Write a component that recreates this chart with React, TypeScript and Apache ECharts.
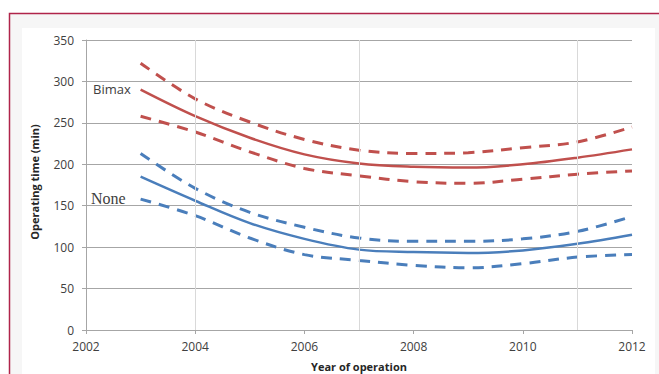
import React, { useEffect, useRef } from "react";
import * as echarts from "echarts";

const years = [2003, 2004, 2005, 2006, 2007, 2008, 2009, 2010, 2011, 2012];
const bimaxMid = [290, 258, 232, 212, 201, 197, 196, 200, 208, 218];
const bimaxUpper = [322, 279, 251, 230, 217, 213, 214, 220, 227, 245];
const bimaxLower = [258, 239, 215, 195, 186, 179, 177, 182, 188, 192];
const noneMid = [185, 156, 129, 110, 97, 94, 93, 96, 104, 115];
const noneUpper = [213, 171, 142, 124, 111, 107, 107, 110, 119, 137];
const noneLower = [158, 138, 111, 91, 84, 78, 75, 80, 88, 91];
const yTicks = [0, 50, 100, 150, 200, 250, 300, 350];
const xTicks = [2002, 2004, 2006, 2008, 2010, 2012];
const extraVLines = [2004, 2007, 2011];

const RED = "#c0504d";
const BLUE = "#4a7ebb";

const pts = (vals: number[]) => years.map((y, i) => [y, vals[i]]);

export default function App() {
  const ref = useRef<HTMLDivElement>(null);
  useEffect(() => {
    if (!ref.current) return;
    const chart = echarts.init(ref.current, undefined, { renderer: "svg" });
    const lineSeries = (name: string, vals: number[], color: string, dashed: boolean) => ({
      name,
      type: "line",
      data: pts(vals),
      smooth: 0.35,
      showSymbol: false,
      symbol: "none",
      lineStyle: {
        color,
        width: dashed ? 3 : 2.5,
        type: dashed ? [11, 8] : "solid",
      },
      z: 3,
    });
    chart.setOption({
      animation: false,
      backgroundColor: "#ffffff",
      graphic: [
        {
          type: "rect",
          shape: { x: 9.5, y: 13.5, width: 720, height: 420 },
          style: { fill: "#f6f6f6", stroke: "#b0244a", lineWidth: 1.5 },
          z: -10,
        },
        {
          type: "rect",
          shape: { x: 22, y: 28, width: 633, height: 360 },
          style: { fill: "#ffffff" },
          z: -9,
        },
        {
          type: "text",
          left: 93,
          top: 82,
          style: { text: "Bimax", font: "13px 'Open Sans'", fill: "#404040" },
        },
        {
          type: "text",
          left: 91,
          top: 190,
          style: { text: "None", font: "16px 'Liberation Serif'", fill: "#404040" },
        },
        {
          type: "text",
          x: 34,
          y: 182,
          rotation: Math.PI / 2,
          style: {
            text: "Operating time (min)",
            font: "bold 11px 'Open Sans'",
            fill: "#262626",
            align: "center",
            verticalAlign: "middle",
          },
        },
        {
          type: "text",
          x: 359,
          y: 366,
          style: {
            text: "Year of operation",
            font: "bold 11px 'Open Sans'",
            fill: "#262626",
            align: "center",
            verticalAlign: "middle",
          },
        },
      ],
      grid: { left: 86, right: 27, top: 40, bottom: 44 },
      xAxis: {
        type: "value",
        min: xTicks[0],
        max: xTicks[xTicks.length - 1],
        interval: 2,
        axisLine: { show: true, lineStyle: { color: "#a6a6a6", width: 1 } },
        axisTick: { show: true, length: 4, lineStyle: { color: "#a6a6a6" } },
        axisLabel: {
          color: "#404040",
          fontSize: 12,
          fontFamily: "Open Sans",
          margin: 10,
          formatter: (v: number) => String(v),
        },
        splitLine: { show: false },
      },
      yAxis: {
        type: "value",
        min: yTicks[0],
        max: yTicks[yTicks.length - 1],
        interval: 50,
        axisLine: { show: true, lineStyle: { color: "#a6a6a6", width: 1 } },
        axisTick: { show: true, length: 4, lineStyle: { color: "#a6a6a6" } },
        axisLabel: {
          color: "#404040",
          fontSize: 12,
          fontFamily: "Open Sans",
          margin: 12,
        },
        splitLine: { show: true, lineStyle: { color: "#a6a6a6", width: 1 } },
      },
      series: [
        {
          type: "line",
          data: [],
          silent: true,
          markLine: {
            silent: true,
            symbol: "none",
            label: { show: false },
            lineStyle: { color: "#d9d9d9", width: 1, type: "solid" },
            data: extraVLines.map((x) => ({ xAxis: x })),
          },
          z: 1,
        },
        lineSeries("Bimax upper", bimaxUpper, RED, true),
        lineSeries("Bimax", bimaxMid, RED, false),
        lineSeries("Bimax lower", bimaxLower, RED, true),
        lineSeries("None upper", noneUpper, BLUE, true),
        lineSeries("None", noneMid, BLUE, false),
        lineSeries("None lower", noneLower, BLUE, true),
      ],
    });
    return () => chart.dispose();
  }, []);
  return (
    <div
      ref={ref}
      style={{ position: "fixed", left: 0, top: 0, width: 659, height: 374 }}
    />
  );
}
